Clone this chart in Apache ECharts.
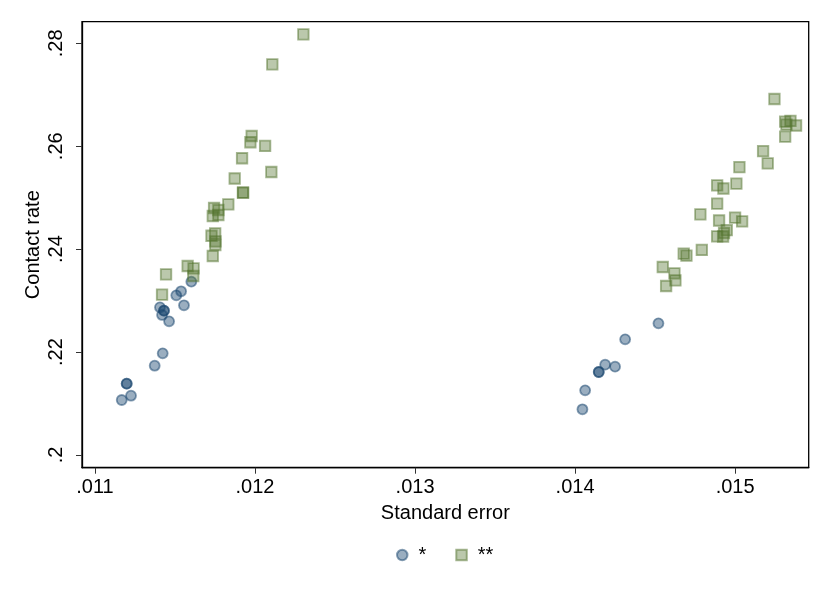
<!DOCTYPE html>
<html>
<head>
<meta charset="utf-8">
<script src="https://cdn.jsdelivr.net/npm/echarts@6/dist/echarts.min.js"></script>
<style>
html,body{margin:0;padding:0;background:#fff;}
#chart{width:830px;height:604px;}
</style>
</head>
<body>
<div id="chart"></div>
<script>
// Tick values
var xTicks = [0.011, 0.012, 0.013, 0.014, 0.015];
var yTicks = [0.20, 0.22, 0.24, 0.26, 0.28];

// Series "*" (circles): standard error, contact rate
var starSE = [0.011167, 0.011225, 0.011198, 0.011198, 0.011373, 0.011423, 0.011406, 0.011431, 0.011431,
  0.011419, 0.011463, 0.011508, 0.011538, 0.011556, 0.011602,
  0.014046, 0.014063, 0.014148, 0.014148, 0.014188, 0.014250, 0.014313, 0.014521];
var starCR = [0.21069, 0.21152, 0.21386, 0.21386, 0.21735, 0.21976, 0.22870, 0.22804, 0.22804,
  0.22721, 0.22598, 0.23103, 0.23181, 0.22909, 0.23368,
  0.20888, 0.21257, 0.21613, 0.21613, 0.21755, 0.21716, 0.22248, 0.22559];

// Series "**" (squares): standard error, contact rate
var dstarSE = [0.012302, 0.012108, 0.011979, 0.011971, 0.012063, 0.011919, 0.012102, 0.011873, 0.011925, 0.011925,
  0.011833, 0.011744, 0.011771, 0.011736, 0.011771, 0.011728, 0.011751, 0.011753, 0.011752, 0.011736,
  0.011579, 0.011616, 0.011614, 0.011444, 0.011419,
  0.015246, 0.015313, 0.015346, 0.015381, 0.015321, 0.015313, 0.015175, 0.015204, 0.015027,
  0.014888, 0.014927, 0.015008, 0.014888, 0.014783, 0.014900, 0.015000, 0.015044, 0.014948,
  0.014931, 0.014888, 0.014925, 0.014792, 0.014679, 0.014696, 0.014548, 0.014621, 0.014627, 0.014569];
var dstarCR = [0.28175, 0.27592, 0.26199, 0.26077, 0.26005, 0.25766, 0.25499, 0.25373, 0.25097, 0.25097,
  0.24872, 0.24800, 0.24761, 0.24644, 0.24664, 0.24260, 0.24308, 0.24153, 0.24081, 0.23867,
  0.23673, 0.23628, 0.23478, 0.23511, 0.23115,
  0.26918, 0.26477, 0.26491, 0.26403, 0.26419, 0.26185, 0.25904, 0.25668, 0.25593,
  0.25241, 0.25179, 0.25272, 0.24883, 0.24677, 0.24557, 0.24611, 0.24541, 0.24368,
  0.24314, 0.24250, 0.24246, 0.23984, 0.23912, 0.23873, 0.23653, 0.23531, 0.23395, 0.23284];

var seriesNames = ['*', '**'];

function zip(a, b) { return a.map(function (v, i) { return [v, b[i]]; }); }
function fmt(v, d) {
  var s = String(+v.toFixed(d));
  return s.replace(/^0\./, '.');
}

var FONT = '"Liberation Sans", Arial, Helvetica, sans-serif';
var chart = echarts.init(document.getElementById('chart'), null, { renderer: 'canvas' });
chart.setOption({
  animation: false,
  backgroundColor: '#ffffff',
  grid: {
    left: 82, right: 21.3, top: 21.7, bottom: 136.3,
    show: true, borderColor: '#000', borderWidth: 1.3, backgroundColor: 'transparent'
  },
  xAxis: {
    type: 'value',
    min: 0.01091875, max: 0.01546,
    name: 'Standard error', nameLocation: 'middle', nameGap: 36,
    nameTextStyle: { fontFamily: FONT, fontSize: 20, color: '#000' },
    axisLine: { show: true, lineStyle: { color: '#000', width: 1.3 } },
    axisTick: { show: true, length: 6, customValues: xTicks, lineStyle: { color: '#333', width: 1 } },
    axisLabel: { customValues: xTicks, margin: 10, fontFamily: FONT, fontSize: 20, color: '#000',
      formatter: function (v) { return fmt(v, 3); } },
    splitLine: { show: false }
  },
  yAxis: {
    type: 'value',
    min: 0.19753, max: 0.2842,
    name: 'Contact rate', nameLocation: 'middle', nameGap: 39, nameMoveOverlap: false,
    nameTextStyle: { fontFamily: FONT, fontSize: 20, color: '#000' },
    axisLine: { show: true, lineStyle: { color: '#000', width: 1.3 } },
    axisTick: { show: true, length: 6, customValues: yTicks, lineStyle: { color: '#333', width: 1 } },
    axisLabel: { customValues: yTicks, rotate: 90, margin: 16, fontFamily: FONT, fontSize: 20, color: '#000',
      formatter: function (v) { return fmt(v, 2); } },
    splitLine: { show: false }
  },
  legend: {
    left: 391, top: 540,
    itemWidth: 10.5, itemHeight: 10.5, itemGap: 29,
    textStyle: { fontFamily: FONT, fontSize: 20, color: '#000', padding: [0, 0, 0, 6] },
    data: [
      { name: seriesNames[0], icon: 'circle' },
      { name: seriesNames[1], icon: 'rect' }
    ]
  },
  series: [
    {
      name: seriesNames[0], type: 'scatter', symbol: 'circle', symbolSize: 10,
      itemStyle: { color: 'rgba(26,71,111,0.55)', borderColor: 'rgba(26,71,111,0.65)', borderWidth: 1.8 },
      data: zip(starSE, starCR)
    },
    {
      name: seriesNames[1], type: 'scatter', symbol: 'rect', symbolSize: 10.5,
      itemStyle: { color: 'rgba(85,117,47,0.5)', borderColor: 'rgba(85,117,47,0.65)', borderWidth: 1.8 },
      data: zip(dstarSE, dstarCR)
    }
  ]
});
</script>
</body>
</html>
